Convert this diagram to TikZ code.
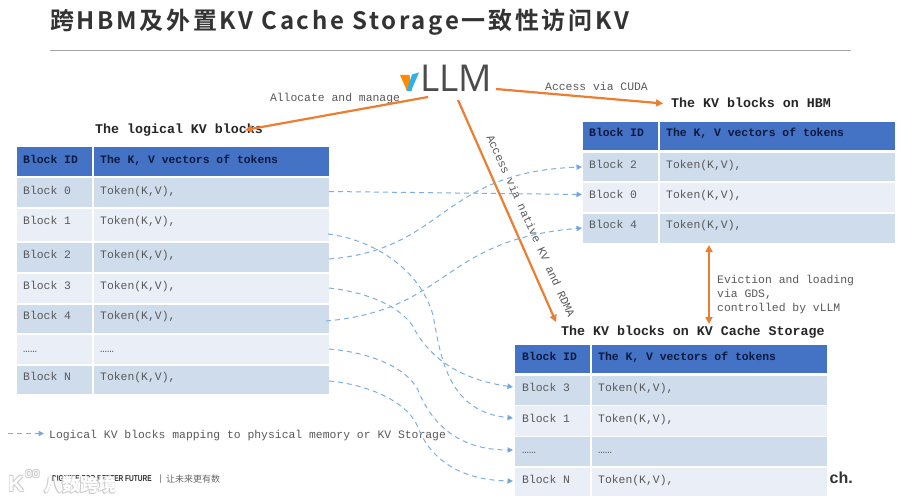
\documentclass[tikz,border=0pt]{standalone}
\usepackage{fontspec}
\setmainfont{Liberation Sans}
\setmonofont{Liberation Mono}
\newfontfamily\cjkb[LetterSpace=11.2]{Noto Sans CJK SC Bold}
\newfontfamily\cjkr{Noto Sans CJK SC}
\newfontfamily\logofont{Open Sans}
\usetikzlibrary{arrows.meta,calc}
\definecolor{hdr}{HTML}{4472C4}
\definecolor{rowa}{HTML}{CFDCEC}
\definecolor{rowb}{HTML}{E9EEF7}
\definecolor{orng}{HTML}{ED7D31}
\definecolor{dashb}{HTML}{5B9BD5}
\definecolor{txt}{HTML}{595959}
\definecolor{hdrtxt}{HTML}{0C1A40}
\tikzset{
  x=1pt,y=-1pt,
  tcell/.style={font=\ttfamily\fontsize{11.4}{13}\selectfont,text=txt,anchor=base west,inner sep=0pt},
  hcelltxt/.style={font=\ttfamily\bfseries\fontsize{11.4}{13}\selectfont,text=hdrtxt,anchor=base west,inner sep=0pt},
  heading/.style={font=\ttfamily\bfseries\fontsize{13.3}{15}\selectfont,text=black!85,anchor=base west,inner sep=0pt},
  lbl/.style={font=\ttfamily\fontsize{11.4}{14}\selectfont,text=txt,inner sep=0pt},
  orngarrow/.style={draw=orng,line width=2.2pt,-{Triangle[length=7pt,width=7pt]}},
  map/.style={draw=dashb!80!white,line width=1pt,dash pattern=on 5pt off 4pt,-{Triangle[length=5.5pt,width=5.5pt,fill=dashb]}},
  wmtext/.style={anchor=west,inner sep=0pt},
}
\newcommand{\rowbox}[6]{%
  \fill[#6] (#1,#4) rectangle (#2-0.7,#5);
  \fill[#6] (#2+0.7,#4) rectangle (#3,#5);
}
\newcommand{\halo}[4]{% x, y, font, text
  \foreach \dx/\dy in {-0.7/-0.7,0.7/-0.7,-0.7/0.7,0.7/0.7}{
    \node[wmtext,text=gray!40,font=#3] at (#1+\dx,#2+\dy) {#4};
  }
  \node[wmtext,text=white,font=#3] at (#1,#2) {#4};
}
\begin{document}
\begin{tikzpicture}
\useasboundingbox (0,0) rectangle (900,500);
\fill[white] (0,0) rectangle (900,500);
% title
\node[anchor=west,inner sep=0pt,text=black!80,font=\cjkb\fontsize{24}{28}\selectfont] (title) at (50,22) {跨HBM及外置KV Cache Storage一致性访问KV};
\draw[gray!70,line width=1pt] (50,51) -- (851,51);
% logo
\fill[orange!90!yellow] (400,75) -- (409.5,75) -- (412,91) -- (407,91) -- cycle;
\fill[dashb!60!cyan!90!blue] (412,74.5) -- (419,72.5) -- (411,91) -- (406.5,91) -- cycle;
\node[anchor=west,inner sep=0pt,text=black!70,font=\logofont\fontsize{37}{40}\selectfont] (vllm) at (420,78) {LLM};
% left table
\rowbox{17}{93}{329}{147}{176}{hdr}
\rowbox{17}{93}{329}{178}{207}{rowa}
\rowbox{17}{93}{329}{208.5}{241}{rowb}
\rowbox{17}{93}{329}{243}{272}{rowa}
\rowbox{17}{93}{329}{273.5}{303}{rowb}
\rowbox{17}{93}{329}{304.5}{333}{rowa}
\rowbox{17}{93}{329}{334.5}{364}{rowb}
\rowbox{17}{93}{329}{365.5}{394}{rowa}
\node[heading] (lh) at (95,134) {The logical KV blocks};
\node[hcelltxt] (lh1) at (23,163.5) {Block ID};
\node[hcelltxt] (lh2) at (100,163.5) {The K, V vectors of tokens};
\foreach \n/\t/\y in {l0/Block 0/194,l1/Block 1/224,l2/Block 2/258,l3/Block 3/289,l4/Block 4/319,lN/Block N/380}{
  \node[tcell] (\n) at (23,\y) {\t};
  \node[tcell] (\n t) at (100,\y) {Token(K,V),};
}
\node[tcell] (ld) at (23,352) {……};
\node[tcell] (ldt) at (100,352) {……};
% HBM table
\rowbox{583}{659}{895}{122}{150.5}{hdr}
\rowbox{583}{659}{895}{153}{181.5}{rowa}
\rowbox{583}{659}{895}{183}{212}{rowb}
\rowbox{583}{659}{895}{213.5}{243}{rowa}
\node[heading] (hh) at (671,108) {The KV blocks on HBM};
\node[hcelltxt] (hh1) at (589,137) {Block ID};
\node[hcelltxt] (hh2) at (666,137) {The K, V vectors of tokens};
\foreach \n/\t/\y in {h2/Block 2/168,h0/Block 0/199,h4/Block 4/229}{
  \node[tcell] (\n) at (589,\y) {\t};
  \node[tcell] (\n t) at (666,\y) {Token(K,V),};
}
% storage table
\rowbox{515}{591}{827}{345}{373}{hdr}
\rowbox{515}{591}{827}{376}{404.5}{rowa}
\rowbox{515}{591}{827}{406}{436}{rowb}
\rowbox{515}{591}{827}{437}{466}{rowa}
\rowbox{515}{591}{827}{467.5}{496}{rowb}
\node[heading] (sh) at (561,335) {The KV blocks on KV Cache Storage};
\node[hcelltxt] (sh1) at (522,360.5) {Block ID};
\node[hcelltxt] (sh2) at (598,360.5) {The K, V vectors of tokens};
\foreach \n/\t/\y in {s3/Block 3/391,s1/Block 1/422,sN/Block N/483}{
  \node[tcell] (\n) at (522,\y) {\t};
  \node[tcell] (\n t) at (598,\y) {Token(K,V),};
}
\node[tcell] (sd) at (522,453) {……};
\node[tcell] (sdt) at (598,453) {……};
% labels
\node[lbl,anchor=base] (alloc) at (335,102) {Allocate and manage};
\node[lbl,anchor=base] (cuda) at (596.5,90.5) {Access via CUDA};
\node[lbl,anchor=center,rotate=-65.6] (nat) at (531,226) {Access via native KV and RDMA};
\node[lbl,anchor=north west,align=left] (evict) at (717,275) {Eviction and loading\\via GDS,\\controlled by vLLM};
\node[lbl,anchor=base west] (leg) at (49,438) {Logical KV blocks mapping to physical memory or KV Storage};
% orange arrows
\coordinate (oa) at (428,97);
\coordinate (ob) at (496,89);
\coordinate (oc) at (458,100);
\draw[orngarrow] (oa) -- (245,130);
\draw[orngarrow] (ob) -- (663,103.5);
\draw[orngarrow] (oc) -- (556,322);
\draw[draw=orng,line width=2.2pt,{Triangle[length=7pt,width=7pt]}-{Triangle[length=7pt,width=7pt]}] (709,245) -- (709,324);
% mapping connectors
\coordinate (m0) at (329,191.5);
\coordinate (m1) at (328,234);
\coordinate (m2) at (329,259);
\coordinate (m3) at (329,288);
\coordinate (m4) at (326,321);
\coordinate (md) at (329,349);
\coordinate (mN) at (329,381);
\coordinate (e2) at (582,167);
\coordinate (e0) at (582,194.5);
\coordinate (e4) at (582,228);
\coordinate (e3) at (513,387);
\coordinate (e1) at (513,418);
\coordinate (ed) at (513,450);
\coordinate (eN) at (513,481);
\draw[map] (m0) -- (e0);
\draw[map] (m2) .. controls (445,250) and (440,172) .. (e2);
\draw[map] (m4) .. controls (450,310) and (440,240) .. (e4);
\draw[map] (m1) .. controls (375,240) and (420,270) .. (433,315) .. controls (440,350) and (445,412) .. (e1);
\draw[map] (m3) .. controls (365,292) and (398,305) .. (412,325) .. controls (425,350) and (450,378) .. (e3);
\draw[map] (md) .. controls (365,352) and (405,365) .. (418,390) .. controls (430,420) and (455,450) .. (ed);
\draw[map] (mN) .. controls (365,384) and (405,400) .. (417,425) .. controls (428,455) and (455,480) .. (eN);
\coordinate (lg0) at (8,433.5);
\coordinate (lg1) at (44,433.5);
\draw[map] (lg0) -- (lg1);
% footer
\node[anchor=west,inner sep=0pt,text=black!80,font=\bfseries\fontsize{8.6}{9}\selectfont] (foot) at (52,479) {\scalebox{0.76}[1]{DIGITIZE FOR BETTER FUTURE}};
\node[anchor=west,inner sep=0pt,text=black!60,font=\fontsize{9}{10}\selectfont] (bar) at (159.5,479) {|};
\node[anchor=west,inner sep=0pt,text=black!60,font=\cjkr\fontsize{9}{10}\selectfont] (foot2) at (166,479) {让未来更有数};
\node[anchor=west,inner sep=0pt,text=black!80,font=\bfseries\fontsize{16}{18}\selectfont] (ch) at (829.5,478) {ch.};
% watermark
\halo{44}{485}{\cjkr\bfseries\fontsize{18}{20}\selectfont}{八数跨境}
\halo{8}{484}{\bfseries\fontsize{22}{24}\selectfont}{K}
\halo{25}{474}{\fontsize{13}{14}\selectfont}{oo}
\end{tikzpicture}
\end{document}
